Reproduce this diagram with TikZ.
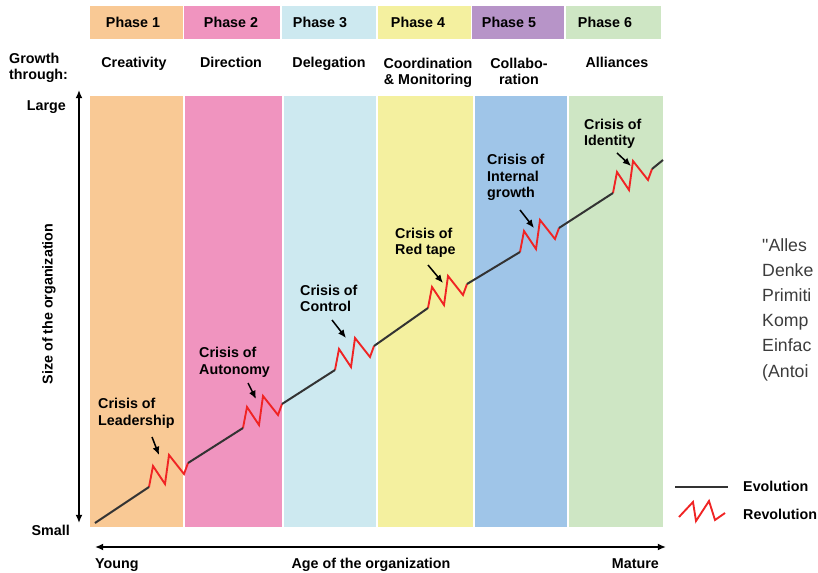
\documentclass[tikz,border=0pt]{standalone}
\usepackage{fontspec}
\setmainfont{Liberation Sans}
\newfontfamily\quotefont[Ligatures=TeXOff]{Liberation Sans}
\usepackage{tikz}
\usetikzlibrary{arrows.meta}

\definecolor{ph1}{HTML}{F9C995}
\definecolor{ph2}{HTML}{F094BF}
\definecolor{ph3}{HTML}{CDE9F0}
\definecolor{ph4}{HTML}{F4F09F}
\definecolor{ph5}{HTML}{B794C8}
\definecolor{col5}{HTML}{9FC5E8}
\definecolor{ph6}{HTML}{CEE6C4}
\definecolor{evol}{HTML}{333333}
\definecolor{revol}{HTML}{F02424}
\definecolor{quotegray}{HTML}{3C3C3C}

\tikzset{
  lbl/.style={font=\fontsize{12.2}{14.5}\selectfont\bfseries, inner sep=0pt},
  evoline/.style={draw=evol, line width=1.7pt},
  revoline/.style={draw=revol, line width=1.6pt},
  axisline/.style={line width=1.6pt, <->},
  crisisarrow/.style={line width=1.3pt, ->}
}

\begin{document}
\begin{tikzpicture}[x=0.03cm, y=-0.03cm, >={Latex[length=7pt,width=6pt]}]
   \useasboundingbox (0,0) rectangle (818,573);

   % phase headers
   \fill[ph1] (90,6) rectangle (183,39);
   \fill[ph2] (184,6) rectangle (280,39);
   \fill[ph3] (282,6) rectangle (376,39);
   \fill[ph4] (378,6) rectangle (471,39);
   \fill[ph5] (472,6) rectangle (564,39);
   \fill[ph6] (566,6) rectangle (661,39);

   \node[lbl, anchor=base] (p1) at (133,28) {Phase 1};
   \node[lbl, anchor=base] (p2) at (231,28) {Phase 2};
   \node[lbl, anchor=base] (p3) at (320,28) {Phase 3};
   \node[lbl, anchor=base] (p4) at (418,28) {Phase 4};
   \node[lbl, anchor=base] (p5) at (509,28) {Phase 5};
   \node[lbl, anchor=base] (p6) at (605,28) {Phase 6};

   % growth through (base = last line)
   \node[lbl, anchor=base west, align=left] (grow) at (9,80) {Growth\\through:};
   \node[lbl, anchor=base] (g1) at (134,68) {Creativity};
   \node[lbl, anchor=base] (g2) at (231,68) {Direction};
   \node[lbl, anchor=base] (g3) at (329,68) {Delegation};
   \node[lbl, anchor=base, align=center] (g4) at (428,85) {Coordination\\\& Monitoring};
   \node[lbl, anchor=base, align=center] (g5) at (519,85) {Collabo-\\ration};
   \node[lbl, anchor=base] (g6) at (617,68) {Alliances};

   % columns
   \fill[ph1] (90,96) rectangle (183,527);
   \fill[ph2] (185,96) rectangle (282,527);
   \fill[ph3] (284,96) rectangle (376,527);
   \fill[ph4] (378,96) rectangle (473,527);
   \fill[col5] (475,96) rectangle (567,527);
   \fill[ph6] (569,96) rectangle (663,527);

   % axes
   \coordinate (ytop) at (79,90);
   \coordinate (ybot) at (79,523);
   \coordinate (xleft) at (95,547);
   \coordinate (xright) at (666,547);
   \draw[axisline] (ybot) -- (ytop);
   \draw[axisline] (xleft) -- (xright);

   \node[lbl, anchor=base east] (large) at (66,111) {Large};
   \node[lbl, anchor=base east] (small) at (70,535) {Small};
   \node[lbl, anchor=base, rotate=90] (size) at (52.5,304) {Size of the organization};
   \node[lbl, anchor=base west] (young) at (95,568) {Young};
   \node[lbl, anchor=base] (age) at (371,568) {Age of the organization};
   \node[lbl, anchor=base east] (mature) at (659,568) {Mature};

   % evolution and revolution
   \coordinate (s0) at (95,523);
   \coordinate (s1) at (149,487);
   \coordinate (s2) at (243,428);
   \coordinate (s3) at (335,370);
   \coordinate (s4) at (428,308);
   \coordinate (s5) at (520,252);
   \coordinate (s6) at (613,193);
   \coordinate (s7) at (663,160);

   \draw[revoline] (s1) -- ++(4,-21) -- ++(12,18) -- ++(4,-29) -- ++(15,19) -- ++(4,-11) coordinate (e1);
   \draw[revoline] (s2) -- ++(4,-21) -- ++(12,18) -- ++(4,-29) -- ++(15,19) -- ++(4,-11) coordinate (e2);
   \draw[revoline] (s3) -- ++(4,-21) -- ++(12,18) -- ++(4,-29) -- ++(15,19) -- ++(4,-11) coordinate (e3);
   \draw[revoline] (s4) -- ++(4,-21) -- ++(12,18) -- ++(4,-29) -- ++(15,19) -- ++(4,-11) coordinate (e4);
   \draw[revoline] (s5) -- ++(4,-21) -- ++(12,18) -- ++(4,-29) -- ++(15,19) -- ++(4,-11) coordinate (e5);
   \draw[revoline] (s6) -- ++(4,-21) -- ++(12,18) -- ++(4,-29) -- ++(15,19) -- ++(4,-11) coordinate (e6);

   \draw[evoline] (s0) -- (s1);
   \draw[evoline] (e1) -- (s2);
   \draw[evoline] (e2) -- (s3);
   \draw[evoline] (e3) -- (s4);
   \draw[evoline] (e4) -- (s5);
   \draw[evoline] (e5) -- (s6);
   \draw[evoline] (e6) -- (s7);

   % crises (base = last line)
   \node[lbl, anchor=base west, align=left] (c1) at (98,425) {Crisis of\\Leadership};
   \node[lbl, anchor=base west, align=left] (c2) at (199,374) {Crisis of\\Autonomy};
   \node[lbl, anchor=base west, align=left] (c3) at (300,312) {Crisis of\\Control};
   \node[lbl, anchor=base west, align=left] (c4) at (395,255) {Crisis of\\Red tape};
   \node[lbl, anchor=base west, align=left] (c5) at (487,198) {Crisis of\\Internal\\growth};
   \node[lbl, anchor=base west, align=left] (c6) at (584,146) {Crisis of\\Identity};

   \coordinate (a1) at (152,437); \coordinate (b1) at (159,455);
   \coordinate (a2) at (248,383); \coordinate (b2) at (256,399);
   \coordinate (a3) at (332,320); \coordinate (b3) at (346,338);
   \coordinate (a4) at (428,265); \coordinate (b4) at (443,283);
   \coordinate (a5) at (520,210); \coordinate (b5) at (534,228);
   \coordinate (a6) at (617,153); \coordinate (b6) at (631,166);
   \draw[crisisarrow] (a1) -- (b1);
   \draw[crisisarrow] (a2) -- (b2);
   \draw[crisisarrow] (a3) -- (b3);
   \draw[crisisarrow] (a4) -- (b4);
   \draw[crisisarrow] (a5) -- (b5);
   \draw[crisisarrow] (a6) -- (b6);

   % legend
   \coordinate (l1) at (675,487);
   \coordinate (l2) at (728,487);
   \coordinate (l3) at (679,517);
   \draw[evoline] (l1) -- (l2);
   \draw[revoline] (l3) -- ++(14,-15) -- ++(3,19) -- ++(13,-20) -- ++(6,19) -- ++(10,-7);
   \node[lbl, anchor=base west] (evo) at (743,491) {Evolution};
   \node[lbl, anchor=base west] (rev) at (743,519) {Revolution};

   % quote (base = last line)
   \node[anchor=base west, inner sep=0pt, align=left, text=quotegray,
         font=\quotefont\fontsize{15.1}{21.5}\selectfont] (quote) at (762,377)
         {"Alles\\Denke\\Primiti\\Komp\\Einfac\\(Antoi};
\end{tikzpicture}
\end{document}
